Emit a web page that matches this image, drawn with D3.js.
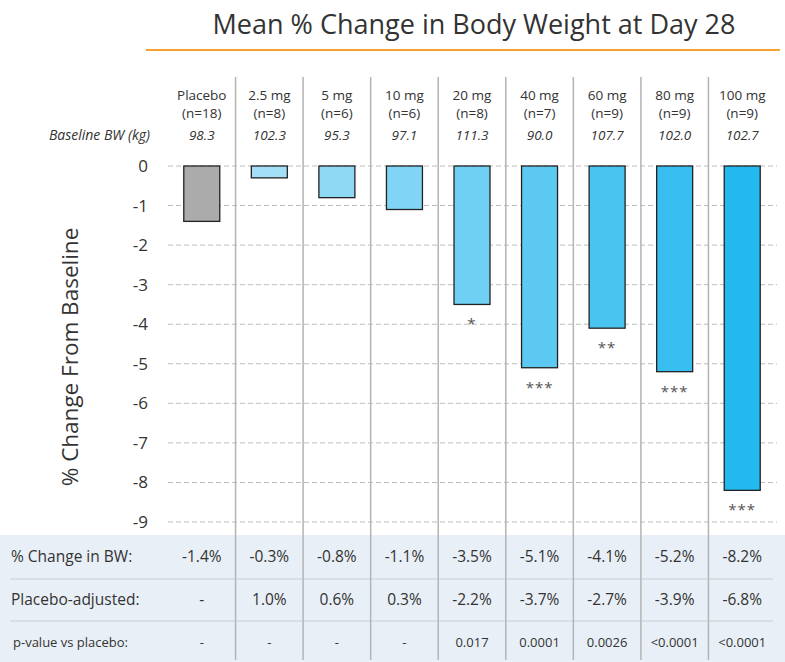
<!DOCTYPE html>
<html>
<head>
<meta charset="utf-8">
<script src="https://cdn.jsdelivr.net/npm/d3@7"></script>
<style>
  body { margin: 0; background: #fff; }
  text { font-family: "Open Sans", "Noto Sans", sans-serif; fill: #333; }
</style>
</head>
<body>
<script>
// data
var groups = ["Placebo", "2.5 mg", "5 mg", "10 mg", "20 mg", "40 mg", "60 mg", "80 mg", "100 mg"];
var nCounts = [18, 8, 6, 6, 8, 7, 9, 9, 9];
var baselineBW = ["98.3", "102.3", "95.3", "97.1", "111.3", "90.0", "107.7", "102.0", "102.7"];
var pctChange = [-1.4, -0.3, -0.8, -1.1, -3.5, -5.1, -4.1, -5.2, -8.2];
var placeboAdj = ["-", "1.0%", "0.6%", "0.3%", "-2.2%", "-3.7%", "-2.7%", "-3.9%", "-6.8%"];
var pValues = ["-", "-", "-", "-", "0.017", "0.0001", "0.0026", "<0.0001", "<0.0001"];
var stars = ["", "", "", "", "*", "***", "**", "***", "***"];
var barColors = ["#ababab", "#a3e0f7", "#8fd9f5", "#80d4f6", "#6fd0f4", "#5cc9f2", "#49c3f0", "#37bdef", "#23b8ee"];
var yTicks = [0, -1, -2, -3, -4, -5, -6, -7, -8, -9];

var width = 785, height = 662;

var svg = d3.select("body").append("svg")
    .attr("width", width)
    .attr("height", height);

var x = d3.scaleBand()
    .domain(groups)
    .range([168, 776])
    .padding(0);

var y = d3.scaleLinear()
    .domain([0, -9])
    .range([166, 522]);

var barW = 36;

// title
svg.append("text")
    .attr("x", 474)
    .attr("y", 34)
    .attr("text-anchor", "middle")
    .style("font-size", "27px")
    .text("Mean % Change in Body Weight at Day 28");

svg.append("line")
    .attr("x1", 146).attr("x2", 780)
    .attr("y1", 50).attr("y2", 50)
    .attr("stroke", "#f5a230")
    .attr("stroke-width", 2);

// table background
svg.append("rect")
    .attr("x", 0).attr("y", 535)
    .attr("width", width).attr("height", height - 535)
    .attr("fill", "#e9eff6");

[579, 621].forEach(function(yy) {
  svg.append("line")
      .attr("x1", 10).attr("x2", 773)
      .attr("y1", yy).attr("y2", yy)
      .attr("stroke", "#c8cdd3")
      .attr("stroke-width", 1);
});

// grid lines
svg.append("g")
    .selectAll("line")
    .data(yTicks)
    .enter()
    .append("line")
      .attr("x1", 168).attr("x2", 777)
      .attr("y1", d => y(d)).attr("y2", d => y(d))
      .attr("stroke", "#bdbdbd")
      .attr("stroke-dasharray", "5,3")
      .attr("stroke-width", 1);

// column separators
svg.append("g")
    .selectAll("line")
    .data(groups.slice(1))
    .enter()
    .append("line")
      .attr("x1", d => x(d)).attr("x2", d => x(d))
      .attr("y1", 77).attr("y2", 660)
      .attr("stroke", "#b4b4b4")
      .attr("stroke-width", 1.5);

// y axis (plain hyphen minus like the original)
var yAxis = d3.axisLeft(y)
    .tickValues(yTicks)
    .tickSize(0)
    .tickPadding(0)
    .tickFormat(d => String(d));

var ax = svg.append("g")
    .attr("transform", "translate(148,0)")
    .call(yAxis);
ax.select(".domain").remove();
ax.selectAll("text")
    .style("font-size", "17px")
    .style("font-family", "'Open Sans', sans-serif")
    .attr("fill", "#333");

svg.append("text")
    .attr("transform", "translate(78,357) rotate(-90)")
    .attr("text-anchor", "middle")
    .style("font-size", "22.5px")
    .text("% Change From Baseline");

// headers
var cx = d => x(d) + x.bandwidth() / 2;

var head = svg.append("g").attr("text-anchor", "middle").style("font-size", "13.5px");
head.selectAll(".g1")
    .data(groups)
    .enter()
    .append("text")
      .attr("x", cx)
      .attr("y", 100)
      .text(d => d);
head.selectAll(".g2")
    .data(groups)
    .enter()
    .append("text")
      .attr("x", cx)
      .attr("y", 118)
      .text((d, i) => "(n=" + nCounts[i] + ")");
head.selectAll(".g3")
    .data(groups)
    .enter()
    .append("text")
      .attr("x", cx)
      .attr("y", 140)
      .style("font-style", "italic")
      .text((d, i) => baselineBW[i]);

svg.append("text")
    .attr("x", 150)
    .attr("y", 140)
    .attr("text-anchor", "end")
    .style("font-size", "14px")
    .style("font-style", "italic")
    .text("Baseline BW (kg)");

// bars
svg.append("g")
    .selectAll("rect")
    .data(groups)
    .enter()
    .append("rect")
      .attr("x", d => cx(d) - barW / 2)
      .attr("y", y(0))
      .attr("width", barW)
      .attr("height", (d, i) => y(pctChange[i]) - y(0))
      .attr("fill", (d, i) => barColors[i])
      .attr("stroke", "#222")
      .attr("stroke-width", 1.3);

// significance stars
svg.append("g")
    .selectAll("text")
    .data(groups)
    .enter()
    .append("text")
      .attr("x", cx)
      .attr("y", (d, i) => y(pctChange[i]) + 25)
      .attr("text-anchor", "middle")
      .style("font-size", "15px")
      .style("fill", "#555")
      .style("letter-spacing", "1px")
      .text((d, i) => stars[i]);

// table rows
var rows = [
  {label: "% Change in BW:", y: 562, size: "15.5px", vals: pctChange.map(v => v.toFixed(1) + "%")},
  {label: "Placebo-adjusted:", y: 605, size: "15.5px", vals: placeboAdj},
  {label: "p-value vs placebo:", y: 647, size: "13px", vals: pValues}
];

rows.forEach(function(r) {
  svg.append("text")
      .attr("x", r.size === "13px" ? 13 : 11)
      .attr("y", r.y)
      .style("font-size", r.size)
      .text(r.label);
  svg.append("g")
      .selectAll("text")
      .data(groups)
      .enter()
      .append("text")
        .attr("x", cx)
        .attr("y", r.y)
        .attr("text-anchor", "middle")
        .style("font-size", r.size)
        .text((d, i) => r.vals[i]);
});
</script>
</body>
</html>
